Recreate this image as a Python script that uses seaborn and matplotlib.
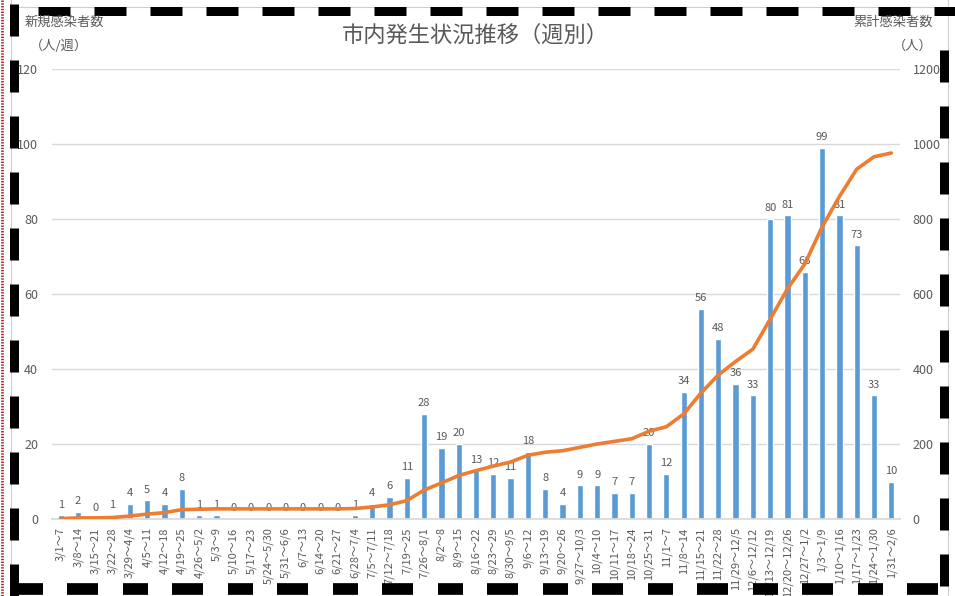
import numpy as np
import pandas as pd
import matplotlib
matplotlib.use("Agg")
import matplotlib.pyplot as plt
from matplotlib.lines import Line2D
import seaborn as sns

weeks = ["3/1～7", "3/8～14", "3/15～21", "3/22～28", "3/29～4/4", "4/5～11", "4/12～18",
         "4/19～25", "4/26～5/2", "5/3～9", "5/10～16", "5/17～23", "5/24～5/30", "5/31～6/6",
         "6/7～13", "6/14～20", "6/21～27", "6/28～7/4", "7/5～7/11", "7/12～7/18", "7/19～25",
         "7/26～8/1", "8/2～8", "8/9～15", "8/16～22", "8/23～29", "8/30～9/5", "9/6～12",
         "9/13～19", "9/20～26", "9/27～10/3", "10/4～10", "10/11～17", "10/18～24", "10/25～31",
         "11/1～7", "11/8～14", "11/15～21", "11/22～28", "11/29～12/5", "12/6～12/12",
         "12/13～12/19", "12/20～12/26", "12/27～1/2", "1/3～1/9", "1/10～1/16", "1/17～1/23",
         "1/24～1/30", "1/31～2/6"]
weekly = [1, 2, 0, 1, 4, 5, 4, 8, 1, 1, 0, 0, 0, 0, 0, 0, 0, 1, 4, 6, 11, 28, 19, 20, 13, 12,
          11, 18, 8, 4, 9, 9, 7, 7, 20, 12, 34, 56, 48, 36, 33, 80, 81, 66, 99, 81, 73, 33, 10]
cumulative = list(np.cumsum(weekly))

left_ticks = [0, 20, 40, 60, 80, 100, 120]
right_ticks = [0, 200, 400, 600, 800, 1000, 1200]

sns.set_theme(style="white")
plt.rcParams["font.family"] = ["Noto Sans CJK JP", "DejaVu Sans"]
plt.rcParams["lines.scale_dashes"] = False

W, H = 955, 596
fig = plt.figure(figsize=(W / 100, H / 100), dpi=100)
fig.patch.set_facecolor("white")

def px(x0, y0, x1, y1):
    return fig.add_axes([x0 / W, 1 - y1 / H, (x1 - x0) / W, (y1 - y0) / H])

ax = px(52, 69, 900, 519)
ax2 = ax.twinx()

df = pd.DataFrame({"week": weeks, "weekly": weekly, "cum": cumulative, "pos": np.arange(len(weeks))})
gray = "#595959"

sns.barplot(data=df, x="week", y="weekly", color="#5B9BD5", saturation=1, width=0.36, ax=ax, zorder=2)
sns.lineplot(data=df, x="pos", y="cum", color="#ED7D31", linewidth=2.6, ax=ax2)

ax.bar_label(ax.containers[0], labels=[str(v) for v in weekly], padding=4, fontsize=8, color=gray)

ax.set_ylim(0, 120)
ax.set_yticks(left_ticks)
ax2.set_ylim(0, 1200)
ax2.set_yticks(right_ticks)
ax.set_xlim(-0.5, len(weeks) - 0.5)
ax.set_xlabel("")
ax.set_ylabel("")
ax2.set_ylabel("")
ax2.set_xlabel("")
ax.grid(axis="y", color="#d9d9d9", linewidth=1)
ax.set_axisbelow(True)
for a in (ax, ax2):
    for s in a.spines.values():
        s.set_visible(False)
ax.spines["bottom"].set_visible(True)
ax.spines["bottom"].set_color("#d9d9d9")
ax.tick_params(axis="x", length=0, rotation=90, labelsize=8, labelcolor=gray, pad=6)
ax.tick_params(axis="y", length=0, labelsize=9, labelcolor=gray, pad=10)
ax2.tick_params(axis="y", length=0, labelsize=9, labelcolor=gray, pad=9)
ax2.set_yticklabels([str(t) for t in right_ticks])
ax.set_yticklabels([str(t) for t in left_ticks])

fig.text(475 / W, 1 - 35 / H, "市内発生状況推移（週別）", ha="center", va="center", fontsize=16, color=gray)
fig.text(25 / W, 1 - 22 / H, "新規感染者数", ha="left", va="center", fontsize=9.5, color=gray)
fig.text(30 / W, 1 - 46 / H, "（人/週）", ha="left", va="center", fontsize=9.5, color=gray)
fig.text(933 / W, 1 - 22 / H, "累計感染者数", ha="right", va="center", fontsize=9.5, color=gray)
fig.text(933 / W, 1 - 46 / H, "（人）", ha="right", va="center", fontsize=9.5, color=gray)

# decorative frame
def fline(x0, y0, x1, y1, **kw):
    fig.add_artist(Line2D([x0 / W, x1 / W], [1 - y0 / H, 1 - y1 / H], transform=fig.transFigure, **kw))

lw = 9 * 72 / 100
dash = (0, (32 * 72 / 100, 24 * 72 / 100))
fline(11, 0, 11, 596, color="#d0d0d0", lw=0.8)
fline(948, 0, 948, 596, color="#d0d0d0", lw=0.8)
fline(11, 7, 948, 7, color="#d0d0d0", lw=0.8)
fline(38, 10.5, 955, 10.5, color="black", lw=lw, linestyle=dash, dash_capstyle="butt")
fline(14, 4, 14, 596, color="black", lw=lw, linestyle=dash, dash_capstyle="butt")
fline(944, 50, 944, 596, color="black", lw=lw, linestyle=dash, dash_capstyle="butt")
fline(18, 589, 955, 589, color="black", lw=lw * 1.3, linestyle=(0, (25 * 72 / 100, 24 * 72 / 100, 31 * 72 / 100, 25 * 72 / 100)), dash_capstyle="butt")
fline(1.5, 0, 1.5, 596, color="#b22222", lw=2, linestyle=(0, (1, 1)))

fig.savefig("out.png", dpi=100)
